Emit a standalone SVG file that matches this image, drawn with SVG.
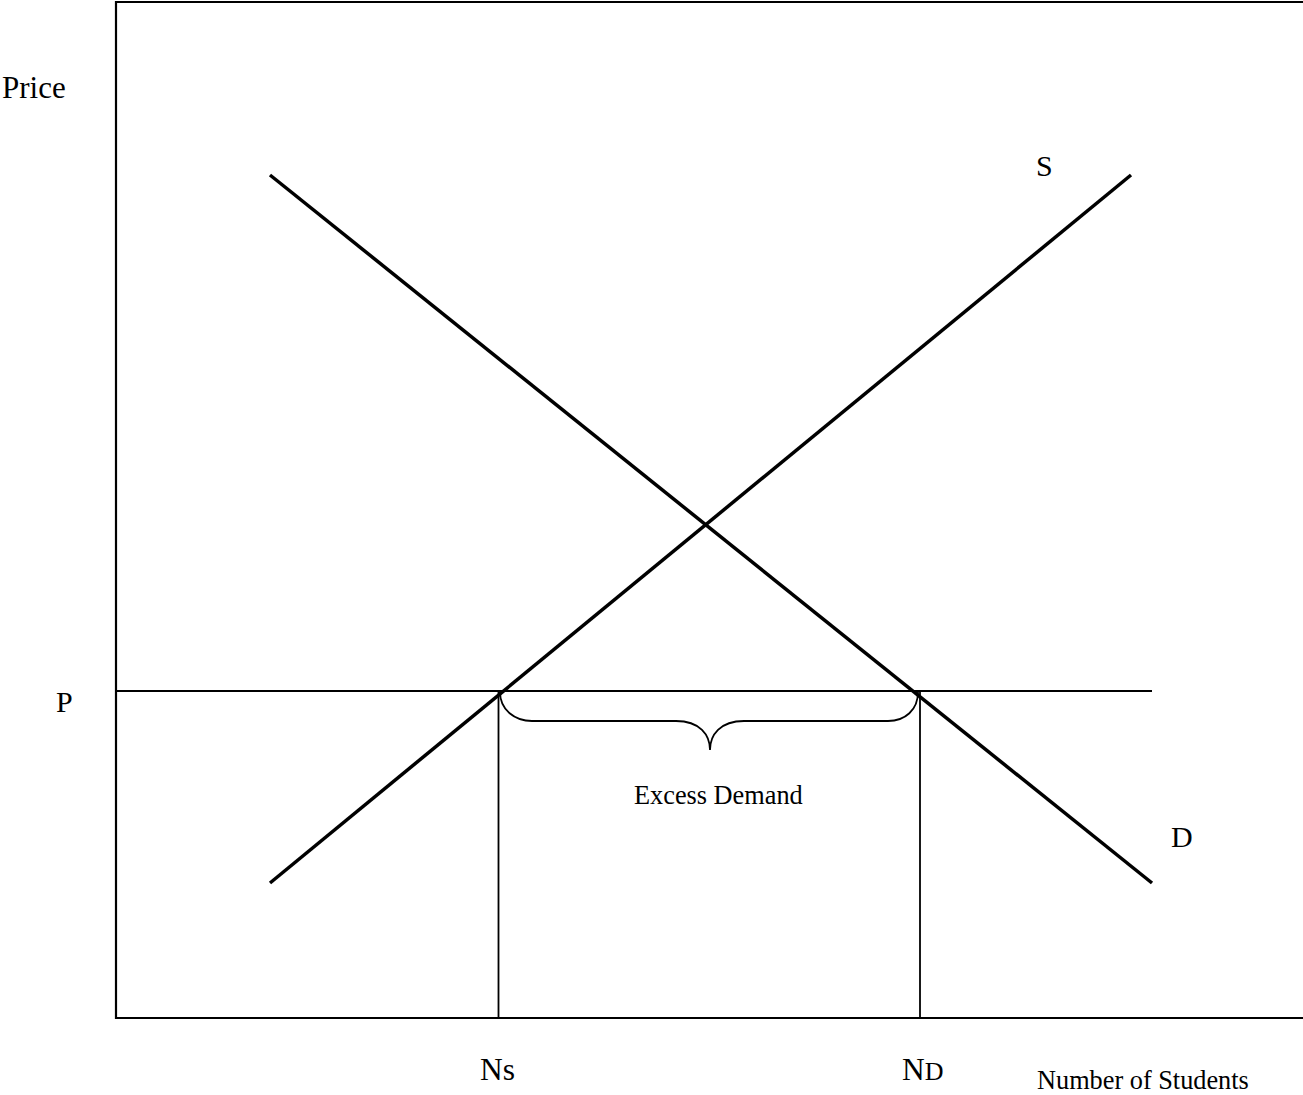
<svg xmlns="http://www.w3.org/2000/svg" width="1303" height="1095" viewBox="0 0 1303 1095">
<style>
text{font-family:"Liberation Serif","Times New Roman",serif;fill:#000}
.lbl{font-size:30px}
.sm{font-size:26.3px}
.thick{stroke:#000;stroke-width:3.5;fill:none}
.thin{stroke:#000;stroke-width:1.8;fill:none}
.axis{stroke:#000;stroke-width:2.2;fill:none}
</style>
<rect width="1303" height="1095" fill="#fff"/>
<g id="axes">
<path class="axis" d="M1303,2 H116 V1018 H1303"/>
</g>
<g id="connectors">
<line id="supply" class="thick" x1="270" y1="883" x2="1131" y2="175"/>
<line id="demand" class="thick" x1="270" y1="175" x2="1152" y2="883"/>
<line id="price-line" class="thin" x1="116" y1="691" x2="1152" y2="691"/>
<line id="ns-line" class="thin" x1="498.5" y1="691" x2="498.5" y2="1018"/>
<line id="nd-line" class="thin" x1="920" y1="691" x2="920" y2="1018"/>
<path id="brace" class="thin" d="M500,692 C500,710 515,721 532,721 H676 C700,721 710,735 710,750 C710,735 720,721 744,721 H888 C905,721 918,710 918,692"/>
</g>
<g id="labels">
<text id="price" x="2" y="98" font-size="31">Price</text>
<text id="p" class="lbl" x="56" y="712">P</text>
<text id="s" class="lbl" x="1036" y="176">S</text>
<text id="d" class="lbl" x="1171" y="847">D</text>
<text id="excess" class="sm" x="634" y="804">Excess Demand</text>
<text id="ns" x="480" y="1080" font-size="31.5">Ns</text>
<text id="nd" x="902" y="1080" font-size="31.5">N<tspan font-size="26">D</tspan></text>
<text id="nstud" class="sm" x="1037" y="1089">Number of Students</text>
</g>
</svg>
